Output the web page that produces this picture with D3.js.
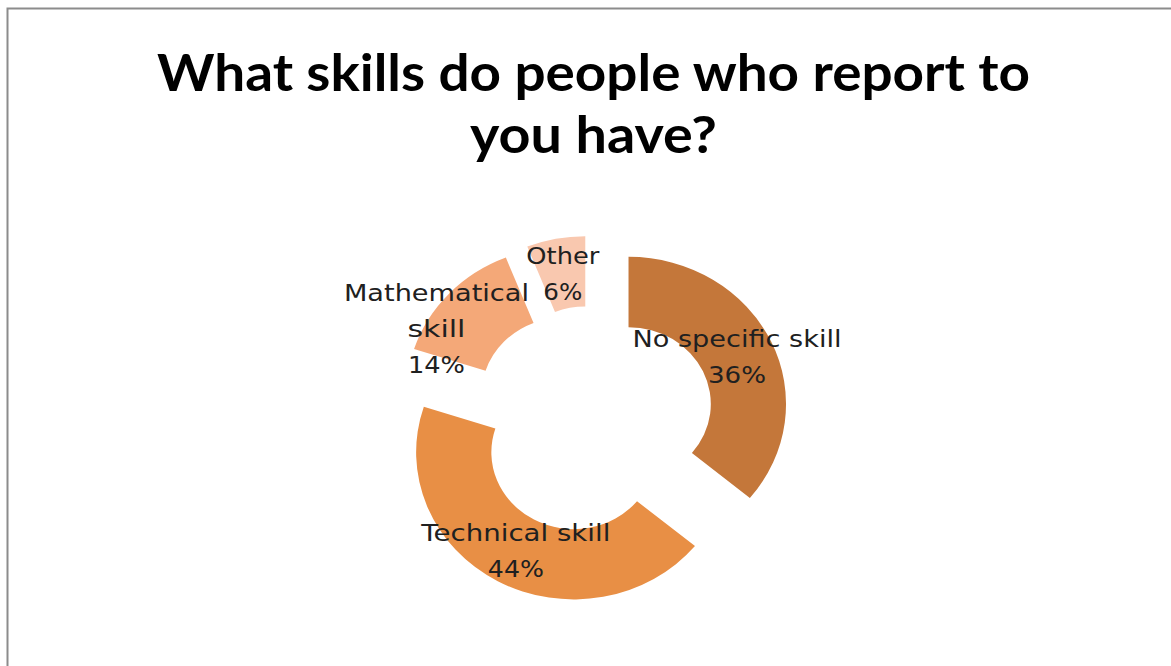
<!DOCTYPE html>
<html>
<head>
<meta charset="utf-8">
<script src="https://cdn.jsdelivr.net/npm/d3@7/dist/d3.min.js"></script>
<style>
  html, body { margin: 0; padding: 0; background: #ffffff; }
  svg { display: block; }
</style>
</head>
<body>
<svg id="chart" width="1171" height="666"></svg>
<script>
// Survey answers: share of respondents per skill group (percent)
const categories = ["No specific skill", "Technical skill", "Mathematical skill", "Other"];
const values = [36, 44, 14, 6];
const valueLabels = ["36%", "44%", "14%", "6%"];
// Wrapped label lines for each slice
const labelLines = [
  ["No specific skill"],
  ["Technical skill"],
  ["Mathematical", "skill"],
  ["Other"]
];
const colors = ["#C4773A", "#E88F45", "#F4A878", "#F9C8AF"];
const titleLines = ["What skills do people who report to", "you have?"];

const W = 1171, H = 666;
const svg = d3.select("#chart");

// Chart area frame
svg.append("rect")
  .attr("x", 7.5).attr("y", 8.5)
  .attr("width", W + 20).attr("height", H + 20)
  .attr("fill", "#ffffff")
  .attr("stroke", "#8c8c8c")
  .attr("stroke-width", 2);

// Title
const titleWidths = [873, 247];
svg.append("g").selectAll("text")
  .data(titleLines)
  .join("text")
  .attr("x", 593.5)
  .attr("y", (d, i) => 91 + i * 62)
  .attr("text-anchor", "middle")
  .attr("font-family", "Lato, 'Open Sans', sans-serif")
  .attr("font-weight", 700)
  .attr("font-size", 52)
  .attr("fill", "#000000")
  .attr("textLength", (d, i) => titleWidths[i])
  .attr("lengthAdjust", "spacingAndGlyphs")
  .text(d => d);

// Doughnut geometry
const cx = 592.7, cy = 419.8;
const stretchX = 1.07;
const outerR = 147.2, innerR = 76.9;
const explode = 37;

const pie = d3.pie().sort(null).value(d => d.value).startAngle(0).endAngle(2 * Math.PI);
const arc = d3.arc().innerRadius(innerR).outerRadius(outerR);

const data = categories.map((c, i) => ({
  name: c, value: values[i], pct: valueLabels[i], lines: labelLines[i], color: colors[i]
}));
const arcs = pie(data);

function shift(a) {
  const mid = (a.startAngle + a.endAngle) / 2;
  return [Math.sin(mid) * explode, -Math.cos(mid) * explode];
}

const ring = svg.append("g")
  .attr("transform", `translate(${cx},${cy}) scale(${stretchX},1)`);

ring.selectAll("path")
  .data(arcs)
  .join("path")
  .attr("d", arc)
  .attr("fill", d => d.data.color)
  .attr("transform", d => { const s = shift(d); return `translate(${s[0]},${s[1]})`; });

// Data labels: category name lines followed by the percentage
const labelNudge = { "Mathematical skill": [-40, 10] };
const labelWidths = {
  "No specific skill": 209, "Technical skill": 189, "Mathematical": 185,
  "skill": 58, "Other": 73, "36%": 58, "44%": 56, "14%": 57, "6%": 39
};
const lineGap = 36;

const labels = svg.append("g");
arcs.forEach(a => {
  const s = shift(a);
  const c = arc.centroid(a);
  const nudge = labelNudge[a.data.name] || [0, 0];
  const lx = cx + (c[0] + s[0]) * stretchX + nudge[0];
  const ly = cy + (c[1] + s[1]) + nudge[1];
  const lines = a.data.lines.concat([a.data.pct]);
  const n = lines.length;
  labels.append("g").selectAll("text")
    .data(lines)
    .join("text")
    .attr("x", lx)
    .attr("y", (d, i) => ly + (i - (n - 1) / 2) * lineGap + 9)
    .attr("text-anchor", "middle")
    .attr("font-family", "'DejaVu Sans', Verdana, sans-serif")
    .attr("font-size", 23.5)
    .attr("fill", "#202020")
    .attr("textLength", d => labelWidths[d])
    .attr("lengthAdjust", "spacingAndGlyphs")
    .text(d => d);
});
</script>
</body>
</html>
